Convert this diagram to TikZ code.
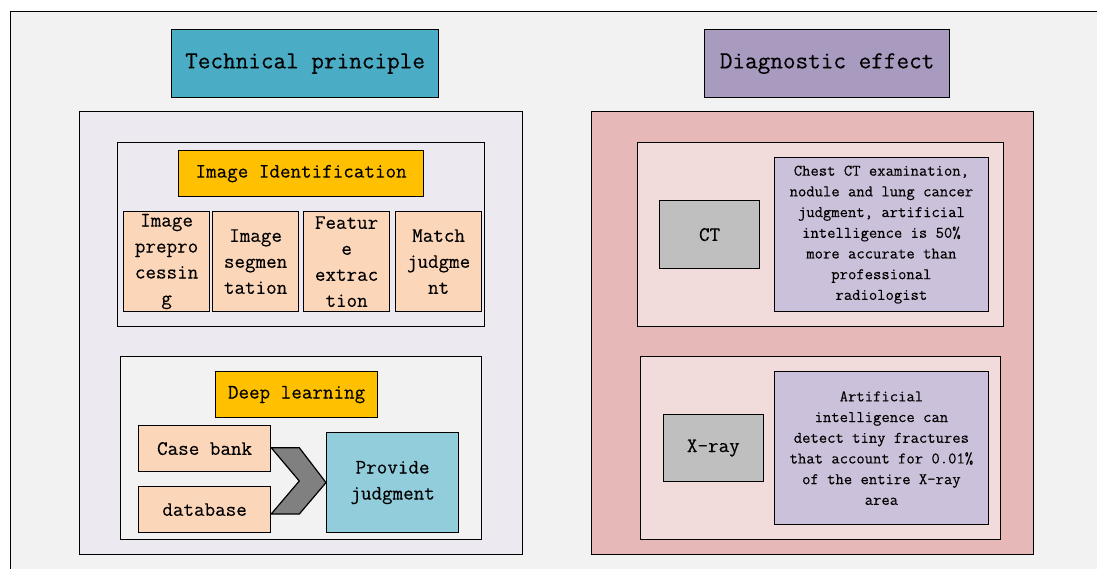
\documentclass[tikz,border=0pt]{standalone}
\usepackage{fontspec}
\newfontfamily\refmono[FakeBold=0.25]{Latin Modern Mono}
\begin{document}
\definecolor{bgc}{HTML}{F2F2F2}
\definecolor{tpc}{HTML}{4BACC6}
\definecolor{dec}{HTML}{A99AC0}
\definecolor{lavc}{HTML}{ECE9F1}
\definecolor{orc}{HTML}{FFC000}
\definecolor{pchc}{HTML}{FBD6B9}
\definecolor{bluc}{HTML}{92CDDC}
\definecolor{rosc}{HTML}{E6B9B8}
\definecolor{ltrc}{HTML}{F2DCDB}
\definecolor{gryc}{HTML}{BFBFBF}
\definecolor{txtc}{HTML}{CCC1DA}
\definecolor{chvc}{HTML}{808080}
\begin{tikzpicture}[x=1pt,y=-1pt,
  box/.style={draw=black, line width=1.2pt, inner sep=0pt, anchor=north west, align=center, text=black},
  titlefont/.style={font=\refmono\fontsize{24.5}{30}\selectfont},
  bodyfont/.style={font=\refmono\fontsize{20.5}{26}\selectfont},
  smallfont/.style={font=\refmono\fontsize{16.2}{20.7}\selectfont},
  chev/.style={draw=black, line width=1.2pt, fill=chvc, line join=miter}]
\useasboundingbox (0,0) rectangle (1097,568);
\clip (0,0) rectangle (1097,568);
\fill[white] (0,0) rectangle (1097,568);
\node[box, fill=bgc, minimum width=1100pt, minimum height=570pt] (frame) at (10,11) {};
% left side
\node[box, fill=tpc, minimum width=267pt, minimum height=68pt, titlefont] (tp) at (171,29) {Technical principle};
\node[box, fill=lavc, minimum width=443pt, minimum height=443pt] (L) at (79,111) {};
\node[box, fill=lavc, minimum width=367pt, minimum height=184pt] (iicont) at (117,142) {};
\node[box, fill=orc, minimum width=245pt, minimum height=46pt, bodyfont] (ii) at (178,150) {Image Identification};
\node[box, fill=pchc, minimum width=86pt, minimum height=100pt, bodyfont] (s1) at (123,211) {Image\\prepro\\cessin\\g};
\node[box, fill=pchc, minimum width=86pt, minimum height=100pt, bodyfont] (s2) at (212,211) {Image\\segmen\\tation};
\node[box, fill=pchc, minimum width=86pt, minimum height=100pt, bodyfont] (s3) at (303,211) {Featur\\e\\extrac\\tion};
\node[box, fill=pchc, minimum width=86pt, minimum height=100pt, bodyfont] (s4) at (395,211) {Match\\judgme\\nt};
\node[box, fill=bgc, minimum width=361pt, minimum height=183pt] (dlcont) at (120,356) {};
\node[box, fill=orc, minimum width=162pt, minimum height=46pt, bodyfont] (dl) at (215,371) {Deep learning};
\node[box, fill=pchc, minimum width=132pt, minimum height=46pt, bodyfont] (case) at (138,425) {Case bank};
\node[box, fill=pchc, minimum width=132pt, minimum height=46pt, bodyfont] (db) at (138,486) {database};
\node[box, fill=bluc, minimum width=132pt, minimum height=100pt, bodyfont] (prov) at (326,432) {Provide\\judgment};
\draw[chev] (case.east |- 0,447.7) -- (299.3,447.7) -- (prov.west) -- (299.3,514) -- (db.east |- 0,514) -- (299.3,481) -- cycle;
% right side
\node[box, fill=dec, minimum width=245pt, minimum height=68pt, titlefont] (de) at (704,29) {Diagnostic effect};
\node[box, fill=rosc, minimum width=442pt, minimum height=443pt] (R) at (591,111) {};
\node[box, fill=ltrc, minimum width=366.5pt, minimum height=183.5pt] (ctcont) at (636.5,142) {};
\node[box, fill=gryc, minimum width=100pt, minimum height=68pt, bodyfont] (ct) at (659,200) {CT};
\node[box, fill=txtc, minimum width=214.4pt, minimum height=154pt, smallfont] (cttxt) at (773.6,157) {Chest CT examination,\\nodule and lung cancer\\judgment, artificial\\intelligence is 50\%\\more accurate than\\professional\\radiologist};
\node[box, fill=ltrc, minimum width=360.3pt, minimum height=183pt] (xcont) at (639.7,356) {};
\node[box, fill=gryc, minimum width=99.5pt, minimum height=67pt, bodyfont] (xr) at (663,414) {X-ray};
\node[box, fill=txtc, minimum width=214.4pt, minimum height=153pt, smallfont] (xtxt) at (773.6,371) {Artificial\\intelligence can\\detect tiny fractures\\that account for 0.01\%\\of the entire X-ray\\area};
\end{tikzpicture}
\end{document}
